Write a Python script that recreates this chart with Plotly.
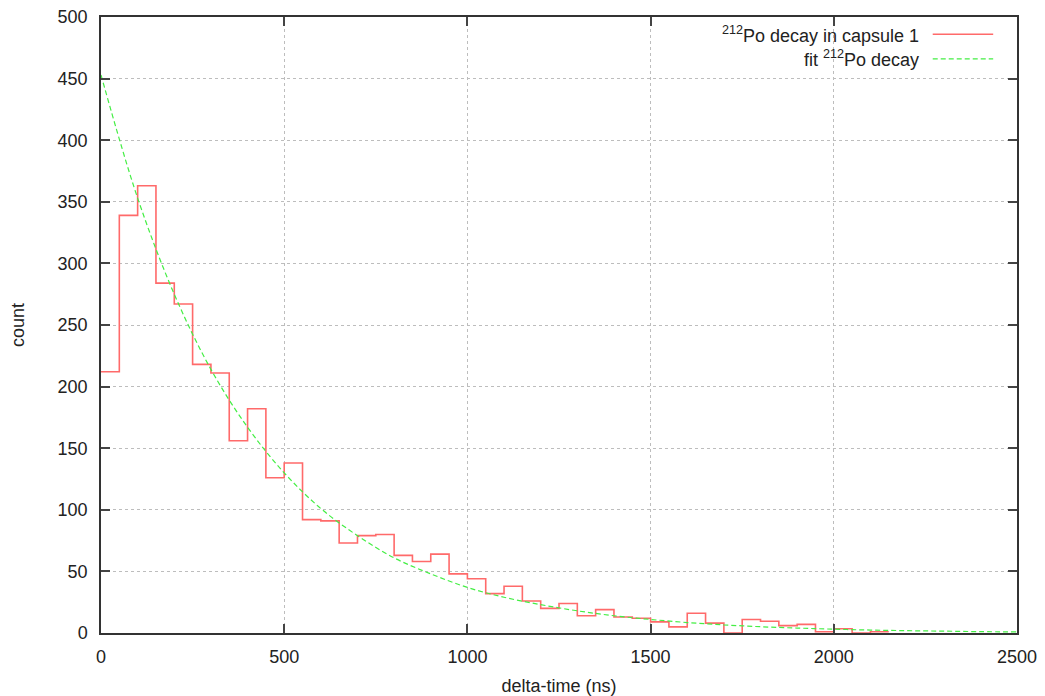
import plotly.graph_objects as go

# Histogram: bin starts (ns) and counts per 50 ns bin
bin_starts = [0, 50, 100, 150, 200, 250, 300, 350, 400, 450,
              500, 550, 600, 650, 700, 750, 800, 850, 900, 950,
              1000, 1050, 1100, 1150, 1200, 1250, 1300, 1350, 1400, 1450,
              1500, 1550, 1600, 1650, 1700, 1750, 1800, 1850, 1900, 1950,
              2000, 2050, 2100]
bin_end = 2150
counts = [212, 339, 363, 284, 267, 218, 211, 156, 182, 126,
          138, 92, 91, 73, 79, 80, 63, 58, 64, 48,
          44, 32, 38, 26, 20, 24, 14, 19, 13, 12,
          9, 5, 16, 8, 0, 11, 9.5, 6, 7, 1,
          3.5, 0, 1]

# Fit curve
fit_t = [0, 100, 200, 300, 400, 500, 600, 700, 800, 900, 1000, 1100, 1200,
         1300, 1400, 1500, 1600, 1700, 1800, 1900, 2000, 2100, 2200, 2300, 2400, 2500]
fit_v = [453, 353, 275, 214, 167, 130, 101, 79, 61, 48, 37, 29, 23,
         18, 14, 11, 8.5, 6.6, 5.1, 4.0, 3.1, 2.4, 1.9, 1.5, 1.1, 0.9]

name_hist = "<sup>212</sup>Po decay in capsule 1"
name_fit = "fit <sup>212</sup>Po decay"

x_ticks = [0, 500, 1000, 1500, 2000, 2500]
y_ticks = list(range(0, 501, 50))

hist_color = "#ff6a6a"
fit_color = "#44ee44"
FONT = "Liberation Sans, Arial, sans-serif"

fig = go.Figure()
fig.add_trace(go.Scatter(
    x=bin_starts + [bin_end], y=counts + [counts[-1]],
    mode="lines", line=dict(color=hist_color, width=1.6, shape="hv"),
    name=name_hist, showlegend=False))
fig.add_trace(go.Scatter(
    x=fit_t, y=fit_v, mode="lines",
    line=dict(color=fit_color, width=1.2, dash="5px,3px", shape="spline"),
    name=name_fit, showlegend=False))

axis_common = dict(
    showline=True, linecolor="#333333", linewidth=1.5, mirror="ticks",
    ticks="inside", ticklen=9, tickcolor="#444444", tickwidth=1.5,
    showgrid=True, gridcolor="#bdbdbd", griddash="dot", gridwidth=1,
    zeroline=False, automargin=False,
    tickfont=dict(family=FONT, size=18, color="#222222"),
)

fig.update_xaxes(range=[0, 2500], tickvals=x_ticks,
                 ticktext=[str(v) for v in x_ticks],
                 title=dict(text="delta-time (ns)", font=dict(family=FONT, size=18, color="#222222"),
                            standoff=14),
                 ticklabelstandoff=7, **axis_common)
fig.update_yaxes(range=[0, 500], tickvals=y_ticks,
                 ticktext=[str(v) for v in y_ticks],
                 title=dict(text="count", font=dict(family=FONT, size=18, color="#222222"),
                            standoff=28),
                 ticklabelstandoff=8, **axis_common)

# Legend drawn gnuplot-style: text right-aligned, sample line to the right
fig.add_shape(type="rect", xref="paper", yref="paper", x0=0.585, x1=0.985, y0=0.916, y1=1.0,
              fillcolor="white", line=dict(width=0), layer="between")
legend_rows = [(name_hist, hist_color, "solid", 0.972), (name_fit, fit_color, "5px,3px", 0.932)]
for text, col, dash, yy in legend_rows:
    fig.add_annotation(x=0.895, y=yy, xref="paper", yref="paper", text=text,
                       showarrow=False, xanchor="right", yanchor="middle",
                       font=dict(family=FONT, size=18, color="#222222"))
    fig.add_shape(type="line", xref="paper", yref="paper", x0=0.908, x1=0.974, y0=yy, y1=yy,
                  line=dict(color=col, width=1.3, dash=dash))

fig.update_layout(
    width=1045, height=696,
    margin=dict(l=101, r=28, t=17, b=63),
    paper_bgcolor="white", plot_bgcolor="white",
    font=dict(family=FONT, size=18, color="#222222"),
    showlegend=False,
)

fig.write_html("out.html")
